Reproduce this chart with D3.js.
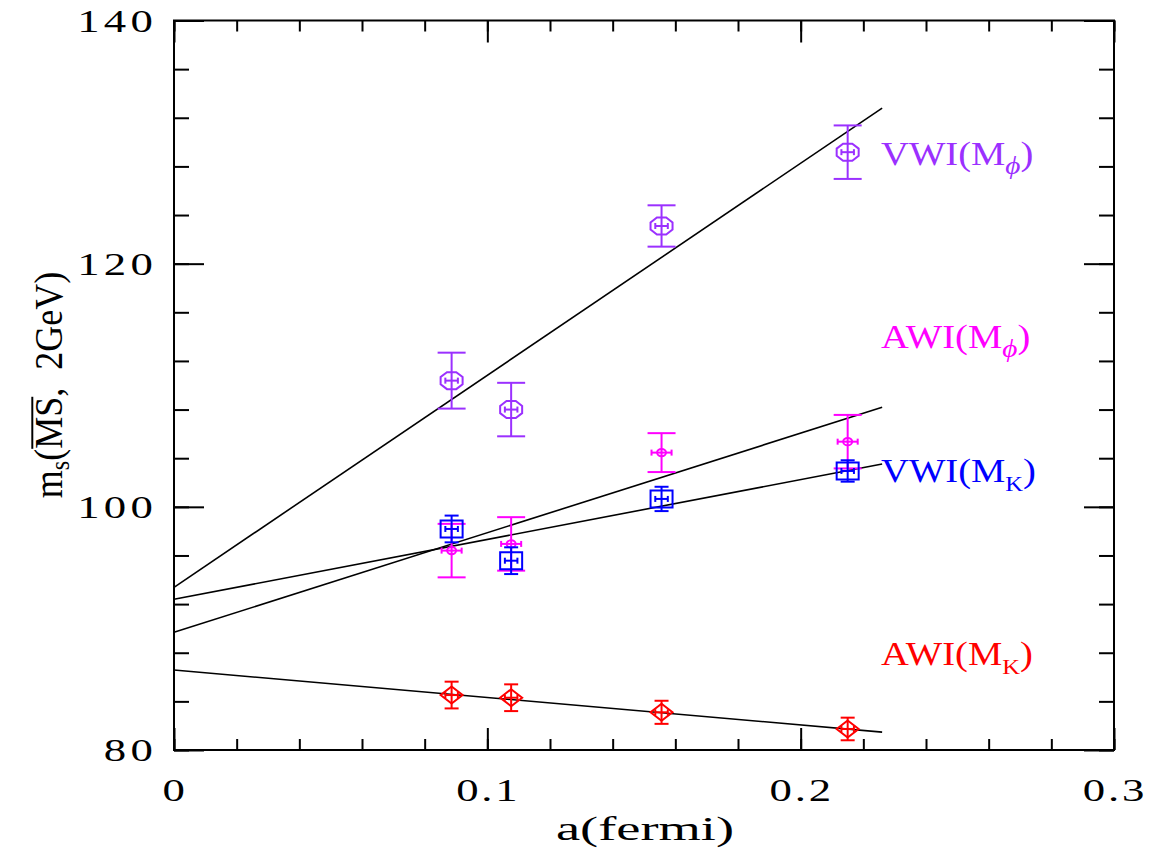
<!DOCTYPE html>
<html>
<head>
<meta charset="utf-8">
<script src="https://cdn.jsdelivr.net/npm/d3@7"></script>
<style>
  body { margin: 0; background: #fff; }
  svg { display: block; }
  text { font-family: "Liberation Serif", serif; }
</style>
</head>
<body>
<svg id="chart" width="1150" height="853"></svg>
<script>
// ================= DATA ===================
const latticeSpacing = [0.0886, 0.1076, 0.1556, 0.2150];

const vwiPhi = [110.38, 108.0, 123.1, 129.17];
const vwiPhiErr = [2.3, 2.2, 1.7, 2.2];
const awiPhi = [96.4, 96.95, 104.46, 105.36];
const awiPhiErr = [2.2, 2.2, 1.6, 2.2];
const vwiK = [98.18, 95.57, 100.65, 102.95];
const vwiKErr = [1.1, 1.1, 1.0, 0.88];
const awiK = [84.52, 84.3, 83.1, 81.73];
const awiKErr = [1.1, 1.1, 0.95, 0.93];
const latticeErr = [0.002, 0.002, 0.002, 0.002];

// linear fits m = b + c * a
const fitIntercept = [93.38, 89.68, 92.4, 86.58];
const fitSlope = [174.4, 81.9, 49.2, -22.6];
const fitRange = [0, 0.226];

const seriesNames = ["VWI", "AWI", "VWI", "AWI"];
const seriesSubs = ["\u03d5", "\u03d5", "K", "K"];

const xMajorTicks = [0, 0.1, 0.2, 0.3];
const yMajorTicks = [80, 100, 120, 140];

// ================= SETTINGS ===================
const colors = ["#9b30ff", "#ff00ff", "#0000ff", "#ff0000"];
const symbols = ["octagon", "dot", "square", "diamond"];
const capHalf = [14, 14, 7, 7];
const labelAt = [128.1, 113.05, 102.04, 86.99];

const svg = d3.select("#chart");
const plot = { left: 174, right: 1114, top: 20.5, bottom: 750 };

const x = d3.scaleLinear().domain([0, 0.3]).range([plot.left, plot.right]);
const y = d3.scaleLinear().domain([80, 140]).range([plot.bottom, plot.top]);

const xMinorTicks = x.ticks(15);
const yMinorTicks = d3.range(80, 140.1, 4);

// ================= AXES (inward ticks on all four sides) ===================
function tickAxis(axisFn, scale, values, size, tr) {
  const g = svg.append("g")
    .attr("transform", tr)
    .call(axisFn(scale).tickValues(values).tickSize(-size).tickFormat(""));
  g.select(".domain").remove();
  g.selectAll("line").attr("stroke", "#000").attr("stroke-width", 2);
}

tickAxis(d3.axisBottom, x, xMinorTicks, 11, `translate(0,${plot.bottom})`);
tickAxis(d3.axisBottom, x, xMajorTicks, 22, `translate(0,${plot.bottom})`);
tickAxis(d3.axisTop, x, xMinorTicks, 11, `translate(0,${plot.top})`);
tickAxis(d3.axisTop, x, xMajorTicks, 22, `translate(0,${plot.top})`);
tickAxis(d3.axisLeft, y, yMinorTicks, 15, `translate(${plot.left},0)`);
tickAxis(d3.axisLeft, y, yMajorTicks, 30, `translate(${plot.left},0)`);
tickAxis(d3.axisRight, y, yMinorTicks, 15, `translate(${plot.right},0)`);
tickAxis(d3.axisRight, y, yMajorTicks, 30, `translate(${plot.right},0)`);

svg.append("rect")
  .attr("x", plot.left).attr("y", plot.top)
  .attr("width", plot.right - plot.left)
  .attr("height", plot.bottom - plot.top)
  .attr("fill", "none").attr("stroke", "#000").attr("stroke-width", 2);

// tick labels (stretched horizontally like the original)
svg.selectAll(".xlab")
  .data(xMajorTicks)
  .join("g")
  .attr("class", "xlab")
  .attr("transform", (d) => `translate(${x(d) + 1},801) scale(1.4,1)`)
  .append("text")
  .attr("text-anchor", "middle")
  .attr("font-size", 32)
  .attr("letter-spacing", 2)
  .text((d) => d3.format("")(d));

svg.selectAll(".ylab")
  .data(yMajorTicks)
  .join("g")
  .attr("class", "ylab")
  .attr("transform", (d) => `translate(157,${y(d) + 11}) scale(1.4,1)`)
  .append("text")
  .attr("text-anchor", "end")
  .attr("font-size", 32)
  .attr("letter-spacing", 3)
  .text((d) => d);

// axis titles
svg.append("g")
  .attr("transform", `translate(645,840) scale(1.6,1)`)
  .append("text")
  .attr("text-anchor", "middle")
  .attr("font-size", 34)
  .text("a(fermi)");

const yTitleG = svg.append("g")
  .attr("transform", `translate(62,385) rotate(-90) scale(1,1.1)`);
const yTitle = yTitleG.append("text")
  .attr("text-anchor", "middle")
  .attr("font-size", 36);
yTitle.append("tspan").text("m");
yTitle.append("tspan").attr("font-size", 24).attr("dy", 6).text("s");
yTitle.append("tspan").attr("dy", -6).text("(MS,\u00a0 2GeV)");
// overline over "MS"
{
  const n = yTitle.node();
  const x0 = n.getStartPositionOfChar(3).x;
  const x1 = n.getEndPositionOfChar(4).x;
  yTitleG.append("line")
    .attr("x1", x0).attr("x2", x1)
    .attr("y1", -27).attr("y2", -27)
    .attr("stroke", "#000").attr("stroke-width", 1.8);
}

// ================= FIT LINES ===================
const line = d3.line().x((d) => x(d[0])).y((d) => y(d[1]));
svg.selectAll(".fit")
  .data(fitIntercept.map((b, i) => fitRange.map((a) => [a, b + fitSlope[i] * a])))
  .join("path")
  .attr("class", "fit")
  .attr("d", line)
  .attr("fill", "none")
  .attr("stroke", "#000")
  .attr("stroke-width", 1.6);

// ================= DATA POINTS ===================
const seriesValues = [vwiPhi, awiPhi, vwiK, awiK];
const seriesErrors = [vwiPhiErr, awiPhiErr, vwiKErr, awiKErr];
const markRx = 11, markRy = 8.5;

function symbolPath(type) {
  if (type === "octagon") {
    const k = 0.42;
    return `M${-markRx * k},${-markRy} L${markRx * k},${-markRy} L${markRx},${-markRy * k}
      L${markRx},${markRy * k} L${markRx * k},${markRy} L${-markRx * k},${markRy}
      L${-markRx},${markRy * k} L${-markRx},${-markRy * k} Z`;
  }
  if (type === "square") {
    return `M${-markRx},${-markRy} H${markRx} V${markRy} H${-markRx} Z`;
  }
  if (type === "diamond") {
    return `M0,${-markRy} L${markRx},0 L0,${markRy} L${-markRx},0 Z`;
  }
  return "M-4.5,0 A4.5,3.6 0 1,0 4.5,0 A4.5,3.6 0 1,0 -4.5,0 Z";
}

seriesValues.forEach((vals, s) => {
  const pts = vals.map((v, i) => ({
    a: latticeSpacing[i], v, e: seriesErrors[s][i], ea: latticeErr[i] * (s === 1 ? 1.6 : 1),
  }));
  const grp = svg.append("g")
    .attr("stroke", colors[s])
    .attr("fill", "none")
    .attr("stroke-width", 2);

  const p = grp.selectAll("g").data(pts).join("g");

  // vertical error bar and caps
  p.append("line")
    .attr("x1", (d) => x(d.a)).attr("x2", (d) => x(d.a))
    .attr("y1", (d) => y(d.v + d.e)).attr("y2", (d) => y(d.v - d.e));
  [1, -1].forEach((sg) => {
    p.append("line")
      .attr("x1", (d) => x(d.a) - capHalf[s]).attr("x2", (d) => x(d.a) + capHalf[s])
      .attr("y1", (d) => y(d.v + sg * d.e)).attr("y2", (d) => y(d.v + sg * d.e));
  });

  // horizontal error bar and small caps
  p.append("line")
    .attr("x1", (d) => x(d.a - d.ea)).attr("x2", (d) => x(d.a + d.ea))
    .attr("y1", (d) => y(d.v)).attr("y2", (d) => y(d.v));
  [1, -1].forEach((sg) => {
    p.append("line")
      .attr("x1", (d) => x(d.a + sg * d.ea)).attr("x2", (d) => x(d.a + sg * d.ea))
      .attr("y1", (d) => y(d.v) - 3).attr("y2", (d) => y(d.v) + 3);
  });

  // symbol
  p.append("path")
    .attr("transform", (d) => `translate(${x(d.a)},${y(d.v)})`)
    .attr("d", symbolPath(symbols[s]));
});

// ================= SERIES LABELS ===================
seriesNames.forEach((name, s) => {
  const t = svg.append("g")
    .attr("transform", `translate(881,${y(labelAt[s])}) scale(1.17,1)`)
    .append("text")
    .attr("font-size", 33)
    .attr("fill", colors[s]);
  t.append("tspan").text(name + "(M");
  t.append("tspan")
    .attr("font-size", seriesSubs[s] === "K" ? 21 : 25)
    .attr("font-style", seriesSubs[s] === "K" ? "normal" : "italic")
    .attr("dy", 9)
    .text(seriesSubs[s]);
  t.append("tspan").attr("dy", -9).text(")");
});
</script>
</body>
</html>
